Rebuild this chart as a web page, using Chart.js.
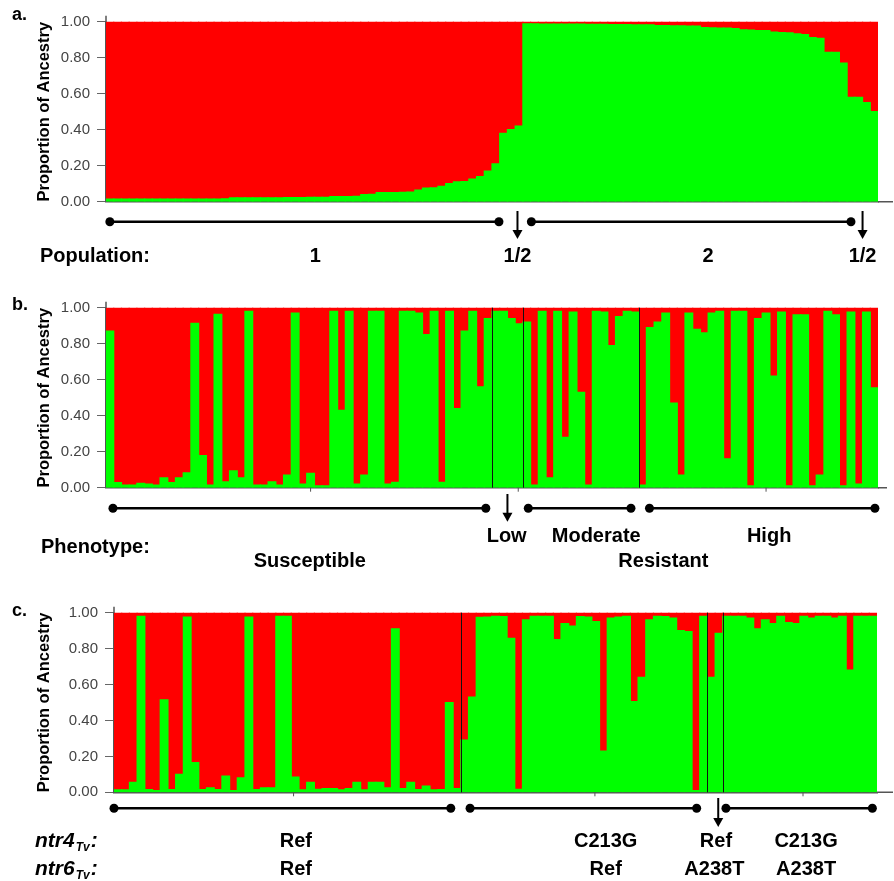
<!DOCTYPE html>
<html>
<head>
<meta charset="utf-8">
<script src="https://cdn.jsdelivr.net/npm/chart.js@4.4.1/dist/chart.umd.min.js"></script>
<style>
  html, body { margin: 0; padding: 0; background: #fff; }
  #wrap { position: relative; width: 894px; height: 881px; }
  canvas { position: absolute; left: 0; }
</style>
</head>
<body>
<div id="wrap">
  <canvas id="chartA" width="894" height="285" style="top:0px"></canvas>
  <canvas id="chartB" width="894" height="305" style="top:285px"></canvas>
  <canvas id="chartC" width="894" height="291" style="top:590px"></canvas>
</div>
<script>
// ancestry (green cluster) per individual; red = remainder
const yTicks = [0, 0.2, 0.4, 0.6, 0.8, 1.0];

const popGreen = [
  0.015, 0.015, 0.015, 0.015, 0.015, 0.015, 0.015, 0.015, 0.015, 0.015,
  0.015, 0.015, 0.015, 0.015, 0.015, 0.016, 0.022, 0.022, 0.022, 0.022,
  0.022, 0.022, 0.022, 0.023, 0.023, 0.023, 0.024, 0.024, 0.024, 0.028,
  0.028, 0.029, 0.030, 0.040, 0.041, 0.050, 0.050, 0.051, 0.052, 0.053,
  0.065, 0.075, 0.077, 0.085, 0.100, 0.110, 0.112, 0.125, 0.140, 0.170,
  0.210, 0.380, 0.400, 0.420, 0.988, 0.988, 0.987, 0.987, 0.987, 0.986,
  0.986, 0.986, 0.985, 0.985, 0.985, 0.984, 0.984, 0.984, 0.983, 0.983,
  0.982, 0.979, 0.978, 0.977, 0.977, 0.976, 0.975, 0.967, 0.966, 0.965,
  0.964, 0.962, 0.955, 0.953, 0.951, 0.950, 0.942, 0.940, 0.938, 0.932,
  0.928, 0.912, 0.908, 0.830, 0.830, 0.770, 0.580, 0.580, 0.550, 0.500
];

const phenoGreen = [
  0.87, 0.028, 0.015, 0.015, 0.024, 0.02, 0.015, 0.055, 0.028, 0.055,
  0.083, 0.913, 0.178, 0.015, 0.963, 0.033, 0.093, 0.055, 0.98, 0.015,
  0.015, 0.033, 0.015, 0.07, 0.97, 0.02, 0.08, 0.01, 0.01, 0.98,
  0.43, 0.98, 0.02, 0.07, 0.98, 0.98, 0.02, 0.03, 0.98, 0.98,
  0.97, 0.85, 0.98, 0.03, 0.98, 0.44, 0.87, 0.98, 0.56, 0.94,
  0.98, 0.98, 0.94, 0.91, 0.92, 0.015, 0.98, 0.055, 0.98, 0.28,
  0.975, 0.53, 0.015, 0.98, 0.975, 0.79, 0.95, 0.98, 0.975, 0.015,
  0.89, 0.92, 0.97, 0.47, 0.07, 0.97, 0.88, 0.86, 0.97, 0.98,
  0.16, 0.98, 0.98, 0.01, 0.94, 0.97, 0.62, 0.975, 0.01, 0.96,
  0.96, 0.01, 0.07, 0.98, 0.96, 0.01, 0.975, 0.02, 0.975, 0.555
];
const phenoGroups = [50, 4, 15, 31];   // Susceptible | Low | Moderate | High

const ntrGreen = [
  0.013, 0.013, 0.055, 0.98, 0.015, 0.01, 0.515, 0.015, 0.10, 0.975,
  0.165, 0.015, 0.025, 0.015, 0.09, 0.01, 0.08, 0.975, 0.015, 0.025,
  0.025, 0.98, 0.98, 0.085, 0.013, 0.055, 0.017, 0.02, 0.02, 0.013,
  0.02, 0.055, 0.013, 0.055, 0.055, 0.025, 0.91, 0.02, 0.055, 0.015,
  0.035, 0.013, 0.015, 0.50, 0.02, 0.29, 0.53, 0.974, 0.975, 0.98,
  0.978, 0.857, 0.017, 0.96, 0.98, 0.98, 0.98, 0.85, 0.94, 0.925,
  0.978, 0.975, 0.95, 0.23, 0.97, 0.975, 0.98, 0.505, 0.64, 0.96,
  0.98, 0.978, 0.97, 0.90, 0.895, 0.01, 0.98, 0.64, 0.885, 0.98,
  0.98, 0.98, 0.97, 0.91, 0.96, 0.94, 0.98, 0.945, 0.94, 0.98,
  0.97, 0.98, 0.98, 0.97, 0.98, 0.68, 0.98, 0.98, 0.98
];
const ntrGroups = [45, 32, 2, 20];     // Ref/Ref | C213G/Ref | Ref/A238T | C213G/A238T

const RED = '#ff0000';
const GREEN = '#00ff00';
const FONT = '"Liberation Sans", Arial, sans-serif';

function boundaries(groups) {
  const out = [];
  let acc = 0;
  groups.slice(0, -1).forEach(g => { acc += g; out.push(acc); });
  return out;
}

function annotPlugin(cfg) {
  return {
    id: 'annot',
    afterDatasetsDraw(chart) {
      const { ctx, chartArea: a, scales: { x } } = chart;
      ctx.save();
      ctx.strokeStyle = '#111';
      ctx.lineWidth = 1;
      (cfg.separators || []).forEach(b => {
        const px = Math.round(x.getPixelForValue(b - 0.5)) + 0.5;
        ctx.beginPath(); ctx.moveTo(px, a.top); ctx.lineTo(px, a.bottom); ctx.stroke();
      });
      ctx.restore();
    },
    afterDraw(chart) {
      const { ctx, chartArea: a, scales: { x } } = chart;
      ctx.save();
      // axis extensions + small ticks
      ctx.strokeStyle = '#555';
      ctx.lineWidth = 1.5;
      ctx.beginPath();
      ctx.moveTo(a.right, a.bottom); ctx.lineTo(cfg.axisEnd, a.bottom);
      ctx.moveTo(a.left, a.top); ctx.lineTo(a.left, a.top - 6);
      ctx.stroke();
      ctx.lineWidth = 1;
      (cfg.xTicks || []).forEach(t => {
        const px = x.getPixelForValue(t);
        ctx.beginPath(); ctx.moveTo(px, a.bottom); ctx.lineTo(px, a.bottom + 4); ctx.stroke();
      });

      // group lines with end dots
      ctx.strokeStyle = '#000';
      ctx.fillStyle = '#000';
      ctx.lineWidth = 2.5;
      cfg.segments.forEach(([s, e]) => {
        const x1 = x.getPixelForValue(s), x2 = x.getPixelForValue(e);
        ctx.beginPath(); ctx.moveTo(x1, cfg.lineY); ctx.lineTo(x2, cfg.lineY); ctx.stroke();
        [x1, x2].forEach(px => {
          ctx.beginPath(); ctx.arc(px, cfg.lineY, 4.5, 0, Math.PI * 2); ctx.fill();
        });
      });
      // arrows
      ctx.lineWidth = 2;
      cfg.arrows.forEach(v => {
        const px = x.getPixelForValue(v);
        ctx.beginPath(); ctx.moveTo(px, cfg.arrowY[0]); ctx.lineTo(px, cfg.arrowY[1] - 8); ctx.stroke();
        ctx.beginPath();
        ctx.moveTo(px - 5, cfg.arrowY[1] - 9);
        ctx.lineTo(px + 5, cfg.arrowY[1] - 9);
        ctx.lineTo(px, cfg.arrowY[1]);
        ctx.closePath(); ctx.fill();
      });
      // labels
      ctx.font = 'bold 20px ' + FONT;
      ctx.textAlign = 'center';
      ctx.textBaseline = 'alphabetic';
      cfg.labels.forEach(l => ctx.fillText(l.text, x.getPixelForValue(l.at), l.y));
      // row headings
      ctx.textAlign = 'left';
      (cfg.headings || []).forEach(h => {
        if (h.sub) {
          ctx.font = 'italic bold 21px ' + FONT;
          ctx.fillText(h.text, h.x, h.y);
          let w = ctx.measureText(h.text).width;
          ctx.font = 'italic bold 12px ' + FONT;
          ctx.fillText(h.sub, h.x + w + 1, h.y + 4);
          w += ctx.measureText(h.sub).width + 2;
          ctx.font = 'italic bold 21px ' + FONT;
          ctx.fillText(':', h.x + w, h.y);
        } else {
          ctx.font = 'bold 20px ' + FONT;
          ctx.fillText(h.text, h.x, h.y);
        }
      });
      // panel letter
      ctx.font = 'bold 18px ' + FONT;
      ctx.fillText(cfg.letter, 12, cfg.letterY);
      ctx.restore();
    }
  };
}

function makePanel(id, green, opts, annot) {
  const labels = green.map((_, i) => i + 1);
  const red = green.map(v => +(1 - v).toFixed(3));
  const canvas = document.getElementById(id);
  return new Chart(canvas, {
    type: 'bar',
    data: {
      labels: labels,
      datasets: [
        { data: green, backgroundColor: GREEN, borderWidth: 0, inflateAmount: 0.6 },
        { data: red, backgroundColor: RED, borderWidth: 0, inflateAmount: 0.6 }
      ]
    },
    options: {
      responsive: false,
      animation: false,
      layout: { padding: { top: opts.top, right: 894 - opts.right, left: 0, bottom: 0 } },
      plugins: { legend: { display: false }, tooltip: { enabled: false } },
      datasets: { bar: { barPercentage: 1, categoryPercentage: 1 } },
      scales: {
        x: {
          stacked: true,
          grid: { display: false },
          ticks: { display: false },
          border: { display: true, color: '#555', width: 1.5 },
          afterFit: s => { s.height = opts.xHeight; }
        },
        y: {
          stacked: true,
          min: 0,
          max: 1,
          afterBuildTicks: s => { s.ticks = yTicks.map(v => ({ value: v })); },
          ticks: {
            callback: v => v.toFixed(2),
            color: '#444',
            padding: 7,
            font: { family: FONT, size: 15 }
          },
          grid: { drawOnChartArea: false, drawTicks: true, tickLength: 9, color: '#666' },
          border: { display: true, color: '#555', width: 1.5 },
          title: {
            display: true,
            text: 'Proportion of Ancestry',
            color: '#000',
            font: { family: FONT, size: 16.5, weight: 'bold' },
            padding: { top: opts.titlePad, bottom: 0 }
          },
          afterFit: s => { s.width = opts.left; }
        }
      }
    },
    plugins: [annotPlugin(annot)]
  });
}

makePanel('chartA', popGreen,
  { left: 106, right: 878, top: 21.7, xHeight: 83.3, titlePad: 35 },
  {
    letter: 'a.', letterY: 20, axisEnd: 893, lineY: 221.7, arrowY: [211, 239],
    segments: [[0, 50.4], [54.6, 96]],
    arrows: [52.8, 97.5],
    labels: [
      { text: '1', at: 26.6, y: 262 }, { text: '1/2', at: 52.8, y: 262 },
      { text: '2', at: 77.5, y: 262 }, { text: '1/2', at: 97.5, y: 262 }
    ],
    headings: [{ text: 'Population:', x: 40, y: 262 }]
  });

makePanel('chartB', phenoGreen,
  { left: 106, right: 878, top: 22.7, xHeight: 102.3, titlePad: 35 },
  {
    letter: 'b.', letterY: 25, axisEnd: 887, lineY: 223.3, arrowY: [209, 236.7],
    separators: boundaries(phenoGroups),
    xTicks: [26, 52.9, 85],
    segments: [[0.4, 48.7], [54.2, 67.5], [69.9, 99.1]],
    arrows: [51.5],
    labels: [
      { text: 'Low', at: 51.4, y: 256.7 }, { text: 'Moderate', at: 63, y: 256.7 },
      { text: 'High', at: 85.4, y: 256.7 },
      { text: 'Susceptible', at: 25.9, y: 281.7 }, { text: 'Resistant', at: 71.7, y: 281.7 }
    ],
    headings: [{ text: 'Phenotype:', x: 41, y: 268.3 }]
  });

makePanel('chartC', ntrGreen,
  { left: 114, right: 877, top: 22.7, xHeight: 88.7, titlePad: 35 },
  {
    letter: 'c.', letterY: 26, axisEnd: 893, lineY: 218.3, arrowY: [208, 237],
    separators: boundaries(ntrGroups),
    xTicks: [22.8, 61.9, 88.9],
    segments: [[-0.5, 43.2], [45.7, 75.1], [78.9, 97.9]],
    arrows: [77.9],
    labels: [
      { text: 'Ref', at: 23.1, y: 257.3 }, { text: 'C213G', at: 63.3, y: 257.3 },
      { text: 'Ref', at: 77.6, y: 257.3 }, { text: 'C213G', at: 89.3, y: 257.3 },
      { text: 'Ref', at: 23.1, y: 285 }, { text: 'Ref', at: 63.3, y: 285 },
      { text: 'A238T', at: 77.4, y: 285 }, { text: 'A238T', at: 89.3, y: 285 }
    ],
    headings: [
      { text: 'ntr4', sub: 'Tv', x: 35, y: 257.3 },
      { text: 'ntr6', sub: 'Tv', x: 35, y: 285 }
    ]
  });
</script>
</body>
</html>
